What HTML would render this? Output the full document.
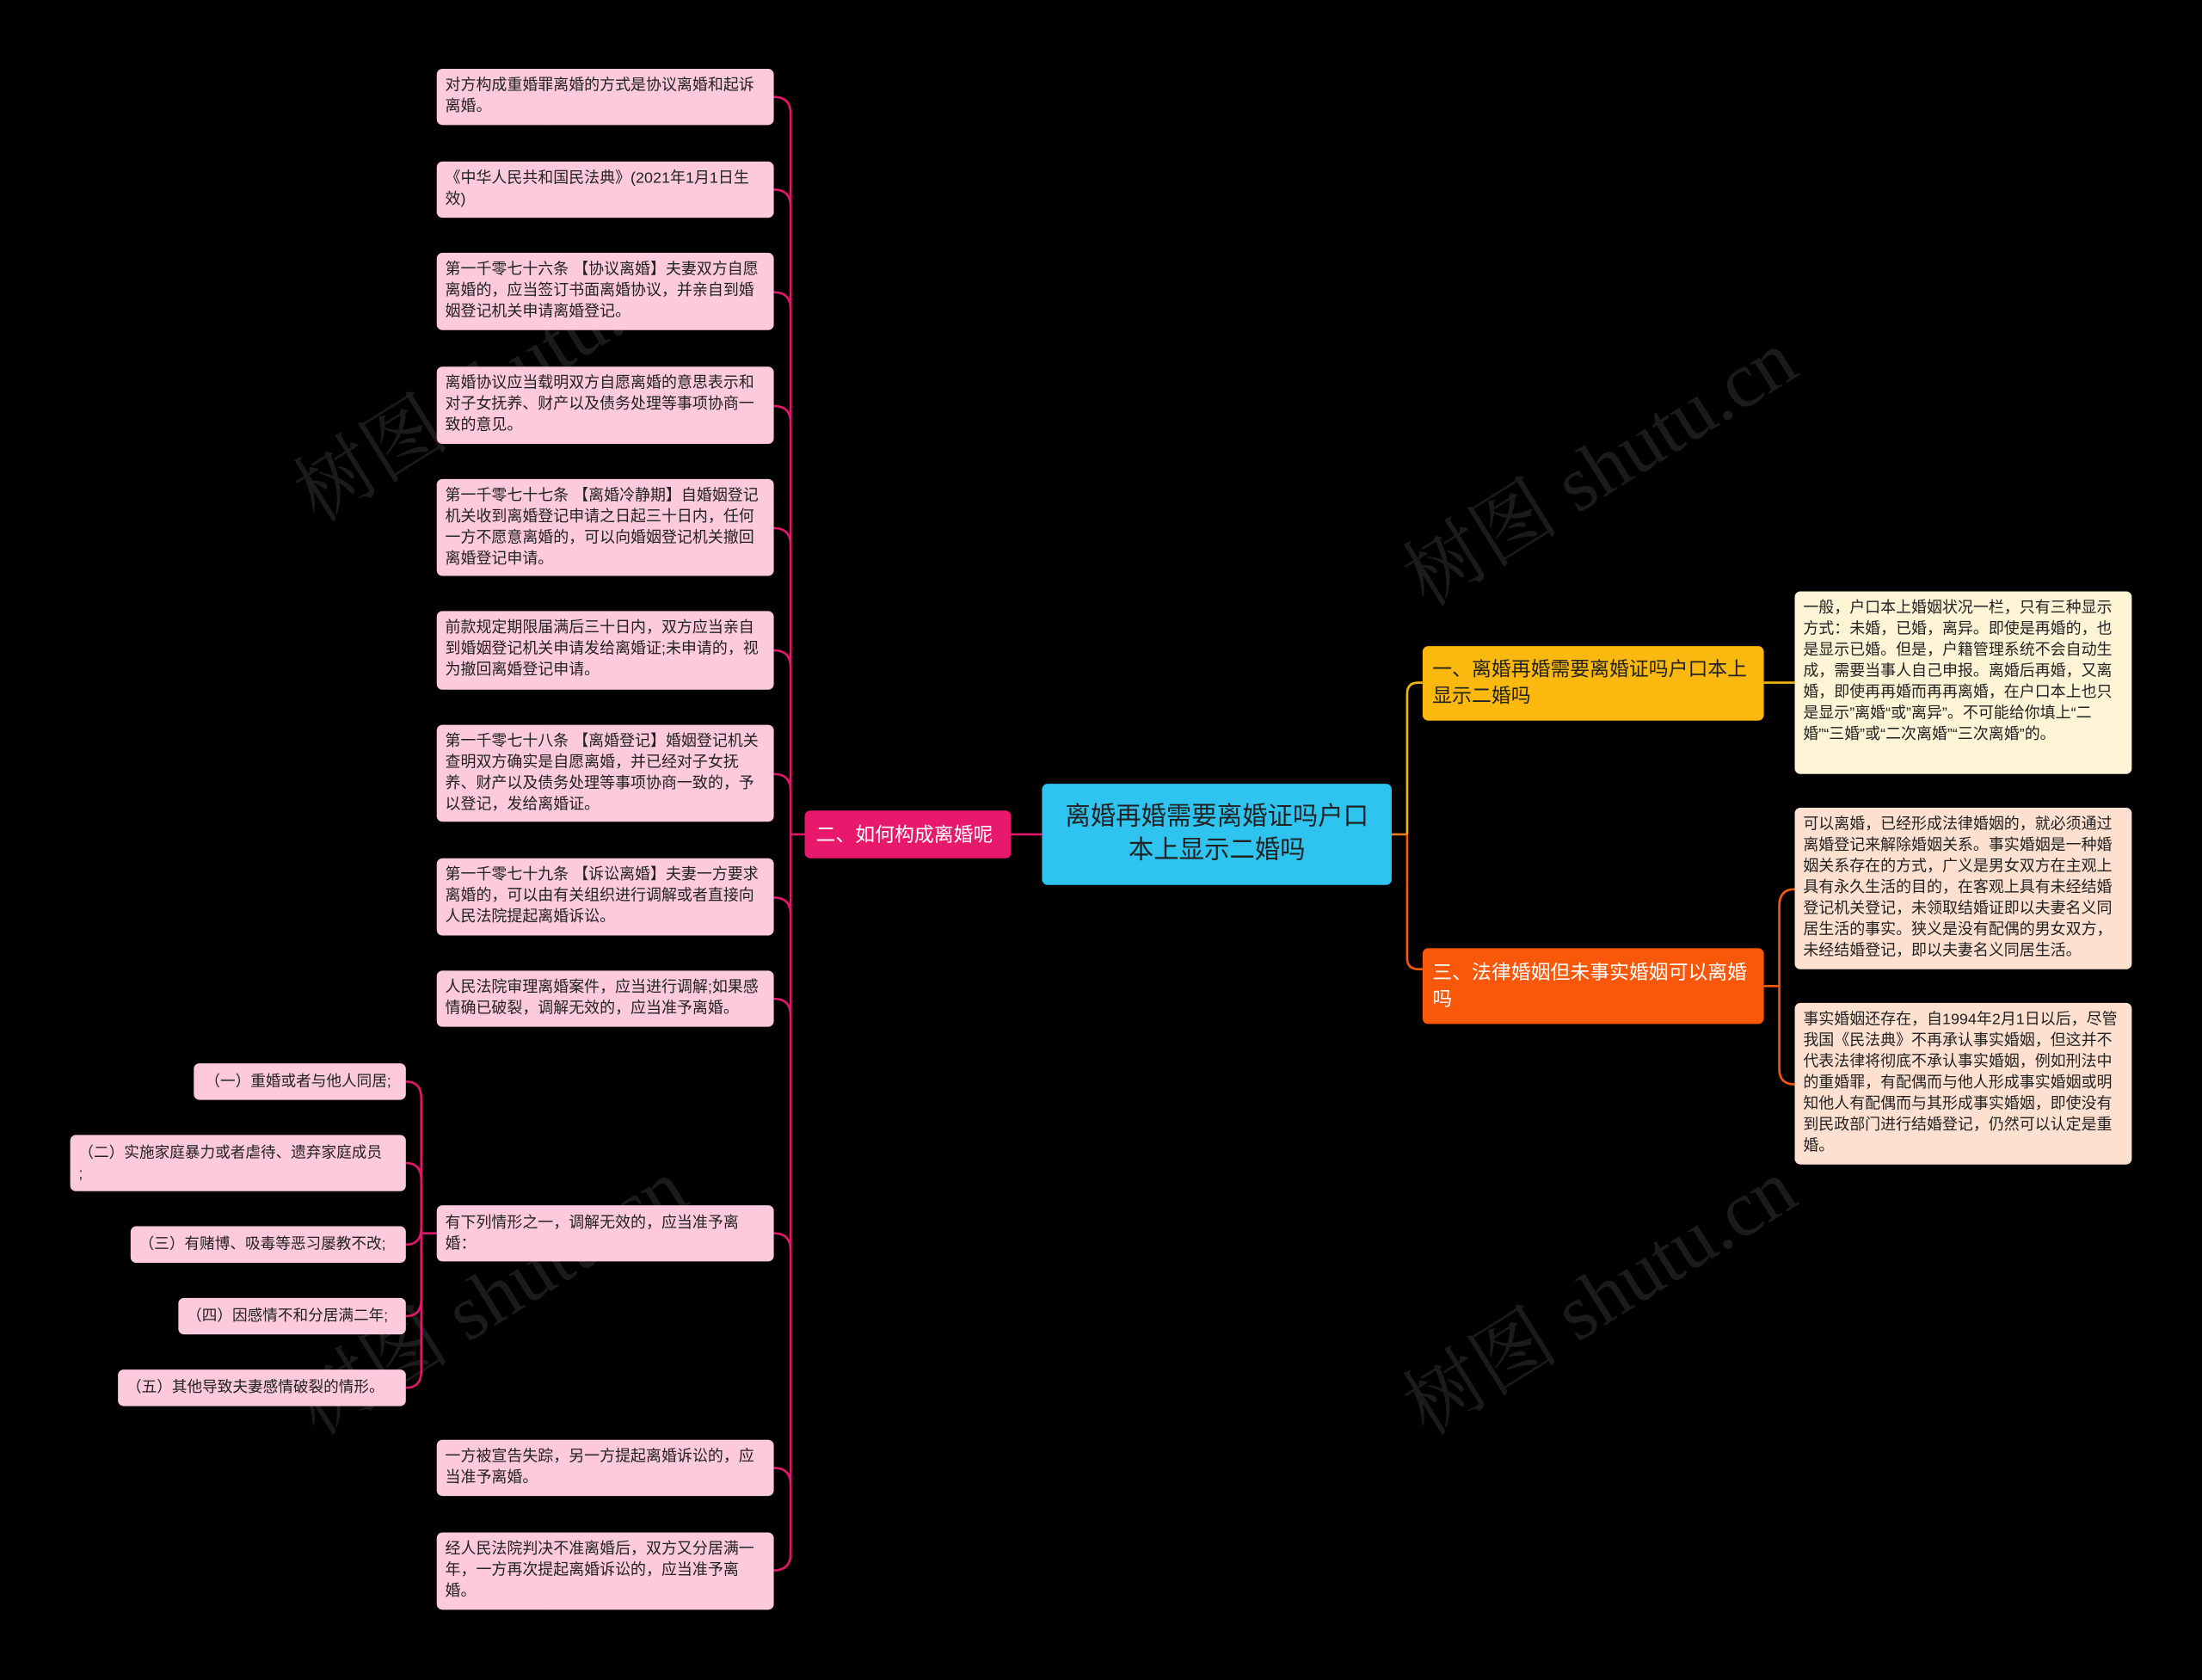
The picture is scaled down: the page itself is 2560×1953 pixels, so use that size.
<!DOCTYPE html>
<html><head><meta charset="utf-8"><style>
html,body{margin:0;padding:0;background:#000;width:2560px;height:1953px;overflow:hidden}
#w{position:absolute;left:0;top:0;width:1568px;height:1196px;transform:scale(1.63265,1.63294);transform-origin:0 0;font-family:"Liberation Sans","Noto Sans CJK SC",sans-serif}
.b{position:absolute;box-sizing:border-box;border-radius:4px;font-size:11px;line-height:15px;color:#222;padding:5px 5px 4px 6px;background:#fcc9dd;overflow:hidden}
.s{white-space:nowrap;font-size:10.8px;padding-top:6px}
.y{background:#fff4d6}.o{background:#fde0d0}
.wm{position:absolute;color:#1b1b1b;font-size:56px;transform:rotate(-32deg);white-space:nowrap;font-family:"Liberation Serif","Noto Serif CJK SC",serif}
</style></head><body><div id="w">
<div class="wm" style="left:190px;top:230px">树图 shutu.cn</div>
<div class="wm" style="left:190px;top:880px">树图 shutu.cn</div>
<div class="wm" style="left:980px;top:290px">树图 shutu.cn</div>
<div class="wm" style="left:980px;top:880px">树图 shutu.cn</div>
<svg width="1568" height="1196" style="position:absolute;left:0;top:0" fill="none" stroke-width="1.6">
<g stroke="#e0186a">
<line x1="720" y1="594" x2="742" y2="594"/>
<path d="M573 594 H563"/>
<path d="M563 78 V1110"/>
<path d="M551 69 Q563 69 563 81 M551 135 Q563 135 563 147 M551 208 Q563 208 563 220 M551 289 Q563 289 563 301 M551 376 Q563 376 563 388 M551 463 Q563 463 563 475 M551 551 Q563 551 563 563 M551 639 Q563 639 563 651 M551 711 Q563 711 563 723 M551 878 Q563 878 563 890 M551 1045 Q563 1045 563 1057 M551 1118 Q563 1118 563 1106"/>
<path d="M311 878 H300 M289 770 Q300 770 300 782 V976 Q300 988 289 988 M289 828 Q300 828 300 840 M289 886 Q300 886 300 874 M289 937 Q300 937 300 925"/>
</g>
<path d="M991 594 H1002" stroke="#e87a1e"/>
<path d="M1013 486 H1010 Q1002 486 1002 494 V594" stroke="#f5b70f"/>
<path d="M1002 594 V682 Q1002 690 1010 690 H1013" stroke="#f15a0a"/>
<path d="M1256 486 H1278" stroke="#f5b70f"/>
<path d="M1256 702 H1267 M1278 633 Q1267 633 1267 645 V761 Q1267 772 1278 772" stroke="#f15a0a"/>
</svg>
<div class="b" style="left:311px;top:49px;width:240px;height:40px">对方构成重婚罪离婚的方式是协议离婚和起诉离婚。</div>
<div class="b" style="left:311px;top:115px;width:240px;height:40px">《中华人民共和国民法典》(2021年1月1日生效)</div>
<div class="b" style="left:311px;top:180px;width:240px;height:55px">第一千零七十六条 【协议离婚】夫妻双方自愿离婚的，应当签订书面离婚协议，并亲自到婚姻登记机关申请离婚登记。</div>
<div class="b" style="left:311px;top:261px;width:240px;height:55px">离婚协议应当载明双方自愿离婚的意思表示和对子女抚养、财产以及债务处理等事项协商一致的意见。</div>
<div class="b" style="left:311px;top:341px;width:240px;height:69px">第一千零七十七条 【离婚冷静期】自婚姻登记机关收到离婚登记申请之日起三十日内，任何一方不愿意离婚的，可以向婚姻登记机关撤回离婚登记申请。</div>
<div class="b" style="left:311px;top:435px;width:240px;height:56px">前款规定期限届满后三十日内，双方应当亲自到婚姻登记机关申请发给离婚证;未申请的，视为撤回离婚登记申请。</div>
<div class="b" style="left:311px;top:516px;width:240px;height:69px">第一千零七十八条 【离婚登记】婚姻登记机关查明双方确实是自愿离婚，并已经对子女抚养、财产以及债务处理等事项协商一致的，予以登记，发给离婚证。</div>
<div class="b" style="left:311px;top:611px;width:240px;height:55px">第一千零七十九条 【诉讼离婚】夫妻一方要求离婚的，可以由有关组织进行调解或者直接向人民法院提起离婚诉讼。</div>
<div class="b" style="left:311px;top:691px;width:240px;height:40px">人民法院审理离婚案件，应当进行调解;如果感情确已破裂，调解无效的，应当准予离婚。</div>
<div class="b" style="left:311px;top:858px;width:240px;height:40px;padding-top:6px">有下列情形之一，调解无效的，应当准予离婚：</div>
<div class="b" style="left:311px;top:1025px;width:240px;height:40px">一方被宣告失踪，另一方提起离婚诉讼的，应当准予离婚。</div>
<div class="b" style="left:311px;top:1091px;width:240px;height:55px">经人民法院判决不准离婚后，双方又分居满一年，一方再次提起离婚诉讼的，应当准予离婚。</div>
<div class="b s" style="left:138px;top:757px;width:151px;height:26px;padding-left:8px">（一）重婚或者与他人同居;</div>
<div class="b" style="left:50px;top:808px;width:239px;height:40px;padding-left:6px;font-size:10.8px;padding-top:6px">（二）实施家庭暴力或者虐待、遗弃家庭成员<br>;</div>
<div class="b s" style="left:93px;top:873px;width:196px;height:26px;padding-left:6px">（三）有赌博、吸毒等恶习屡教不改;</div>
<div class="b s" style="left:127px;top:924px;width:162px;height:26px;padding-left:6px">（四）因感情不和分居满二年;</div>
<div class="b s" style="left:84px;top:975px;width:205px;height:26px;padding-left:6px">（五）其他导致夫妻感情破裂的情形。</div>
<div class="b" style="left:573px;top:577px;width:147px;height:34px;background:#e8186d;color:#fff;font-size:14px;line-height:24px;padding:5px 8px">二、如何构成离婚呢</div>
<div class="b" style="left:742px;top:558px;width:249px;height:72px;background:#2fc3ef;color:#222;font-size:18px;line-height:24px;padding:11px 12px;text-align:center">离婚再婚需要离婚证吗户口本上显示二婚吗</div>
<div class="b" style="left:1013px;top:460px;width:243px;height:53px;background:#fbb80f;color:#222;font-size:14px;line-height:19px;padding:7px 10px 7px 7px">一、离婚再婚需要离婚证吗户口本上显示二婚吗</div>
<div class="b" style="left:1013px;top:675px;width:243px;height:54px;background:#f9570a;color:#fff;font-size:14px;line-height:19px;padding:8px 10px 8px 7px">三、法律婚姻但未事实婚姻可以离婚吗</div>
<div class="b y" style="left:1278px;top:421px;width:240px;height:130px">一般，户口本上婚姻状况一栏，只有三种显示方式：未婚，已婚，离异。即使是再婚的，也是显示已婚。但是，户籍管理系统不会自动生成，需要当事人自己申报。离婚后再婚，又离婚，即使再再婚而再再离婚，在户口本上也只是显示”离婚“或”离异”。不可能给你填上“二婚”“三婚”或“二次离婚”“三次离婚”的。</div>
<div class="b o" style="left:1278px;top:575px;width:240px;height:115px">可以离婚，已经形成法律婚姻的，就必须通过离婚登记来解除婚姻关系。事实婚姻是一种婚姻关系存在的方式，广义是男女双方在主观上具有永久生活的目的，在客观上具有未经结婚登记机关登记，未领取结婚证即以夫妻名义同居生活的事实。狭义是没有配偶的男女双方，未经结婚登记，即以夫妻名义同居生活。</div>
<div class="b o" style="left:1278px;top:714px;width:240px;height:115px">事实婚姻还存在，自1994年2月1日以后，尽管我国《民法典》不再承认事实婚姻，但这并不代表法律将彻底不承认事实婚姻，例如刑法中的重婚罪，有配偶而与他人形成事实婚姻或明知他人有配偶而与其形成事实婚姻，即使没有到民政部门进行结婚登记，仍然可以认定是重婚。</div>
</div></body></html>
